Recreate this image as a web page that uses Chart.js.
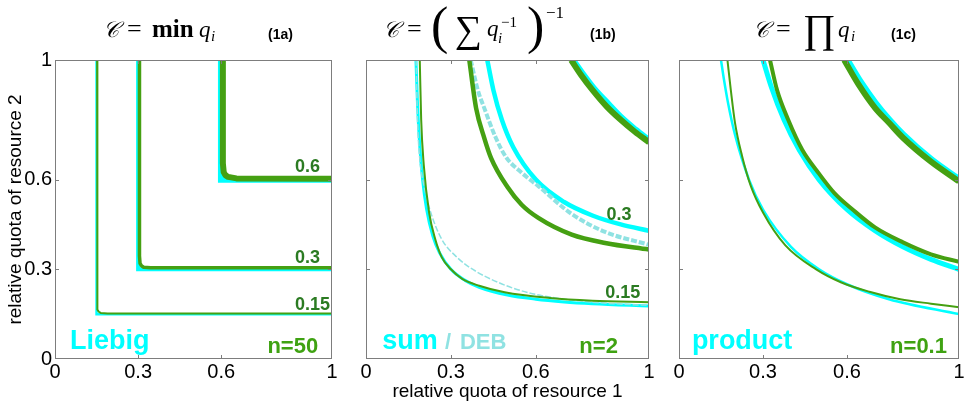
<!DOCTYPE html>
<html>
<head>
<meta charset="utf-8">
<script src="https://cdn.jsdelivr.net/npm/chart.js@4.4.1/dist/chart.umd.min.js"></script>
<style>
  body { margin: 0; background: #fff; width: 964px; height: 405px; position: relative; overflow: hidden; }
  canvas { position: absolute; top: 0; }
  svg { position: absolute; left: 0; top: 0; }
</style>
</head>
<body>
<canvas id="p1" width="345" height="405" style="left:0px"></canvas>
<canvas id="p2" width="315" height="405" style="left:345px"></canvas>
<canvas id="p3" width="304" height="405" style="left:660px"></canvas>

<svg width="964" height="60" font-family="'Liberation Serif','DejaVu Serif',serif">
  <!-- (1a) -->
  <text x="103" y="37" font-size="22" font-style="italic">𝒞</text>
  <text x="127" y="37" font-size="26">=</text>
  <text x="152" y="37" font-size="25" font-weight="bold">min</text>
  <text x="199" y="37" font-size="23" font-style="italic">q</text>
  <text x="211" y="41" font-size="15" font-style="italic">i</text>
  <text x="268" y="39" font-size="14" font-weight="bold" font-family="'Liberation Sans',Arial,sans-serif">(1a)</text>
  <!-- (1b) -->
  <text x="383" y="37" font-size="22" font-style="italic">𝒞</text>
  <text x="407" y="37" font-size="26">=</text>
  <text x="431" y="43" font-size="52">(</text>
  <text x="455" y="42" font-size="38">∑</text>
  <text x="487" y="36" font-size="23" font-style="italic">q</text>
  <text x="501" y="27" font-size="15">−1</text>
  <text x="498" y="43" font-size="15" font-style="italic">i</text>
  <text x="527" y="43" font-size="52">)</text>
  <text x="546" y="18" font-size="17">−1</text>
  <text x="590" y="39" font-size="14" font-weight="bold" font-family="'Liberation Sans',Arial,sans-serif">(1b)</text>
  <!-- (1c) -->
  <text x="753" y="37" font-size="22" font-style="italic">𝒞</text>
  <text x="776" y="37" font-size="26">=</text>
  <text x="803" y="42" font-size="40">∏</text>
  <text x="838" y="37" font-size="23" font-style="italic">q</text>
  <text x="851" y="41" font-size="15" font-style="italic">i</text>
  <text x="891" y="39" font-size="14" font-weight="bold" font-family="'Liberation Sans',Arial,sans-serif">(1c)</text>
</svg>

<script>
// axis ticks
const tickValues = [0, 0.3, 0.6, 1];
const tickLabels = ['0', '0.3', '0.6', '1'];

// (1a) Liebig (cyan) and n=50 (green), levels 0.15 / 0.3 / 0.6
const liebigX15 = [0.15, 0.15, 1];
const liebigY15 = [1, 0.15, 0.15];
const liebigX30 = [0.3, 0.3, 1];
const liebigY30 = [1, 0.3, 0.3];
const liebigX60 = [0.6, 0.6, 1];
const liebigY60 = [1, 0.6, 0.6];
const n50X15 = [0.152, 0.152, 0.154, 0.158, 0.165, 0.19, 1];
const n50Y15 = [1, 0.19, 0.165, 0.158, 0.154, 0.152, 0.152];
const n50X30 = [0.305, 0.305, 0.307, 0.312, 0.32, 0.345, 1];
const n50Y30 = [1, 0.345, 0.32, 0.312, 0.307, 0.305, 0.305];
const n50X60 = [0.606, 0.606, 0.609, 0.615, 0.625, 0.655, 1];
const n50Y60 = [1, 0.655, 0.625, 0.615, 0.609, 0.604, 0.603];

// (1b) sum (cyan), DEB (light cyan, dashed), n=2 (green)
const sumX15 = [0.1765, 0.182, 0.19, 0.2, 0.214, 0.236, 0.26, 0.3, 0.35, 0.4, 0.5, 0.6, 0.7, 0.8, 1];
const sumY15 = [1, 0.853, 0.712, 0.6, 0.502, 0.412, 0.355, 0.3, 0.263, 0.24, 0.214, 0.2, 0.191, 0.185, 0.177];
const debX15 = [0.177, 0.182, 0.19, 0.205, 0.224, 0.265, 0.324, 0.389, 0.47, 0.55, 0.65, 0.8, 1];
const debY15 = [1, 0.8, 0.67, 0.58, 0.505, 0.405, 0.338, 0.293, 0.255, 0.228, 0.207, 0.19, 0.179];
const n2X15 = [0.19, 0.195, 0.204, 0.223, 0.245, 0.268, 0.3, 0.34, 0.4, 0.49, 0.65, 0.8, 1];
const n2Y15 = [1, 0.8, 0.65, 0.49, 0.4, 0.34, 0.3, 0.268, 0.245, 0.223, 0.204, 0.195, 0.19];
const sumX30 = [0.4286, 0.45, 0.48, 0.52, 0.6, 0.7, 0.8, 0.9, 1];
const sumY30 = [1, 0.9, 0.8, 0.709, 0.6, 0.525, 0.48, 0.45, 0.429];
const debX30 = [0.37, 0.395, 0.418, 0.459, 0.495, 0.55, 0.609, 0.727, 0.845, 1];
const debY30 = [1, 0.9, 0.839, 0.739, 0.675, 0.623, 0.578, 0.485, 0.425, 0.382];
const n2X30 = [0.365, 0.389, 0.418, 0.442, 0.5, 0.55, 0.609, 0.727, 0.845, 1];
const n2Y30 = [1, 0.839, 0.739, 0.672, 0.575, 0.516, 0.472, 0.416, 0.388, 0.366];
const sumX60 = [0.732, 0.767, 0.806, 0.855, 0.905, 0.953, 1];
const sumY60 = [1, 0.953, 0.905, 0.855, 0.806, 0.767, 0.732];
const n2X60 = [0.725, 0.76, 0.8, 0.85, 0.9, 0.95, 1];
const n2Y60 = [1, 0.95, 0.9, 0.845, 0.8, 0.76, 0.725];

// (1c) product (cyan) and n=0.1 (green)
const prodX15 = [0.15, 0.16, 0.175, 0.2, 0.25, 0.3, 0.4, 0.5, 0.6, 0.75, 1];
const prodY15 = [1, 0.938, 0.857, 0.75, 0.6, 0.5, 0.375, 0.3, 0.25, 0.2, 0.15];
const prodX30 = [0.3, 0.33, 0.375, 0.43, 0.5, 0.6, 0.7, 0.8, 0.9, 1];
const prodY30 = [1, 0.909, 0.8, 0.698, 0.6, 0.5, 0.429, 0.375, 0.333, 0.3];
const prodX60 = [0.6, 0.65, 0.7, 0.75, 0.8, 0.9, 1];
const prodY60 = [1, 0.923, 0.857, 0.8, 0.75, 0.667, 0.6];
const n01X15 = [0.173, 0.185, 0.2, 0.225, 0.256, 0.3, 0.38, 0.49, 0.58, 0.68, 0.79, 0.9, 1];
const n01Y15 = [1, 0.9, 0.79, 0.68, 0.58, 0.49, 0.38, 0.3, 0.256, 0.225, 0.2, 0.185, 0.173];
const n01X30 = [0.325, 0.35, 0.39, 0.44, 0.5, 0.555, 0.62, 0.7, 0.8, 0.9, 1];
const n01Y30 = [1, 0.9, 0.8, 0.7, 0.62, 0.555, 0.5, 0.44, 0.39, 0.35, 0.325];
const n01X60 = [0.59, 0.64, 0.7, 0.75, 0.8, 0.9, 1];
const n01Y60 = [1, 0.92, 0.84, 0.79, 0.74, 0.66, 0.594];

const CYAN = '#00ffff';
const DEB = '#8fe2e2';
const GREEN = '#45a012';
const GREEN_TXT = '#3fa212';
const DARK = '#2b7b22';
const FONT = "'Liberation Sans', Arial, sans-serif";

Chart.defaults.font.family = FONT;
Chart.defaults.color = '#000';

function curve(xs, ys, color, width, opts = {}) {
  return Object.assign({
    data: xs.map((x, i) => ({ x: x, y: ys[i] })),
    showLine: true,
    borderColor: color,
    borderWidth: width,
    pointRadius: 0,
    fill: false,
    clip: 0,
    borderCapStyle: 'butt',
    borderJoinStyle: 'round'
  }, opts);
}

// frame and inward tick marks
const framePlugin = {
  id: 'frame',
  afterDraw(chart) {
    const { ctx, chartArea: a, scales: { x, y } } = chart;
    ctx.save();
    ctx.strokeStyle = '#7d7d7d';
    ctx.lineWidth = 1;
    ctx.strokeRect(a.left + 0.5, a.top + 0.5, a.right - a.left - 1, a.bottom - a.top - 1);
    ctx.beginPath();
    tickValues.slice(1, -1).forEach(v => {
      const px = Math.round(x.getPixelForValue(v)) + 0.5;
      const py = Math.round(y.getPixelForValue(v)) + 0.5;
      ctx.moveTo(px, a.bottom); ctx.lineTo(px, a.bottom - 4);
      ctx.moveTo(px, a.top); ctx.lineTo(px, a.top + 4);
      ctx.moveTo(a.left, py); ctx.lineTo(a.left + 4, py);
      ctx.moveTo(a.right, py); ctx.lineTo(a.right - 4, py);
    });
    ctx.stroke();
    ctx.restore();
  }
};

// in-plot labels, placed in data coordinates
const panelText = {
  id: 'panelText',
  afterDatasetsDraw(chart, args, opts) {
    const { ctx, scales: { x, y } } = chart;
    (opts.items || []).forEach(t => {
      ctx.save();
      ctx.font = 'bold ' + t.size + 'px ' + FONT;
      ctx.fillStyle = t.color;
      ctx.textAlign = t.align || 'left';
      ctx.textBaseline = 'alphabetic';
      ctx.fillText(t.text, x.getPixelForValue(t.x), y.getPixelForValue(t.y));
      ctx.restore();
    });
  }
};

function xScale(title) {
  return {
    type: 'linear', min: 0, max: 1,
    afterBuildTicks: s => { s.ticks = tickValues.map(v => ({ value: v })); },
    afterFit: s => { s.height = 46; s.paddingLeft = 0; s.paddingRight = 0; },
    ticks: {
      callback: v => tickLabels[tickValues.indexOf(v)],
      font: { size: 20 }, padding: 1, maxRotation: 0, autoSkip: false
    },
    grid: { display: false, drawTicks: false },
    border: { display: false },
    title: { display: !!title, text: title || '', font: { size: 19 }, padding: { top: 0, bottom: 2 } }
  };
}

function yScale(showLabels) {
  return {
    type: 'linear', min: 0, max: 1, display: showLabels,
    afterBuildTicks: s => { s.ticks = tickValues.map(v => ({ value: v })); },
    afterFit: s => { s.width = showLabels ? 55 : 0; s.paddingTop = 0; s.paddingBottom = 0; },
    ticks: {
      callback: v => tickLabels[tickValues.indexOf(v)],
      font: { size: 20 }, padding: 3, autoSkip: false
    },
    grid: { display: false, drawTicks: false },
    border: { display: false },
    title: { display: showLabels, text: 'relative quota of resource 2', font: { size: 19 }, padding: { top: 4, bottom: 0 } }
  };
}

function makeChart(id, datasets, padding, showY, xTitle, items, smooth) {
  new Chart(document.getElementById(id), {
    type: 'scatter',
    data: { datasets: datasets },
    options: {
      responsive: false,
      animation: false,
      layout: { padding: padding },
      elements: { line: smooth ? { cubicInterpolationMode: 'monotone' } : { tension: 0 } },
      scales: { x: xScale(xTitle), y: yScale(showY) },
      plugins: { legend: { display: false }, tooltip: { enabled: false }, panelText: { items: items } }
    },
    plugins: [framePlugin, panelText]
  });
}

// first dataset is drawn on top
makeChart('p1', [
  curve(n50X15, n50Y15, GREEN, 2),
  curve(n50X30, n50Y30, GREEN, 3.5),
  curve(n50X60, n50Y60, GREEN, 6),
  curve(liebigX15, liebigY15, CYAN, 2.5, { borderJoinStyle: 'miter' }),
  curve(liebigX30, liebigY30, CYAN, 4, { borderJoinStyle: 'miter' }),
  curve(liebigX60, liebigY60, CYAN, 6.5, { borderJoinStyle: 'miter' })
], { left: 0, top: 60, right: 13, bottom: 0 }, true, null, [
  { text: '0.6', x: 0.866, y: 0.625, size: 18, color: DARK },
  { text: '0.3', x: 0.866, y: 0.321, size: 18, color: DARK },
  { text: '0.15', x: 0.866, y: 0.164, size: 18, color: DARK },
  { text: 'Liebig', x: 0.054, y: 0.033, size: 27, color: CYAN },
  { text: 'n=50', x: 0.95, y: 0.02, size: 22, color: GREEN_TXT, align: 'right' }
], false);

makeChart('p2', [
  curve(n2X15, n2Y15, GREEN, 2),
  curve(n2X30, n2Y30, GREEN, 4.5),
  curve(n2X60, n2Y60, GREEN, 6),
  curve(debX15, debY15, DEB, 1.5, { borderDash: [6, 2] }),
  curve(debX30, debY30, DEB, 4, { borderDash: [6, 2] }),
  curve(sumX15, sumY15, CYAN, 3),
  curve(sumX30, sumY30, CYAN, 4.5),
  curve(sumX60, sumY60, CYAN, 6)
], { left: 21, top: 60, right: 11, bottom: 0 }, false, 'relative quota of resource 1', [
  { text: '0.3', x: 0.85, y: 0.465, size: 18, color: DARK },
  { text: '0.15', x: 0.845, y: 0.204, size: 18, color: DARK },
  { text: 'sum', x: 0.057, y: 0.033, size: 27, color: CYAN },
  { text: '/', x: 0.279, y: 0.033, size: 22, color: DEB },
  { text: 'DEB', x: 0.332, y: 0.033, size: 22, color: DEB },
  { text: 'n=2', x: 0.89, y: 0.02, size: 22, color: GREEN_TXT, align: 'right' }
], true);

makeChart('p3', [
  curve(n01X15, n01Y15, GREEN, 2),
  curve(n01X30, n01Y30, GREEN, 4),
  curve(n01X60, n01Y60, GREEN, 6),
  curve(prodX15, prodY15, CYAN, 2.5),
  curve(prodX30, prodY30, CYAN, 5),
  curve(prodX60, prodY60, CYAN, 7)
], { left: 19, top: 60, right: 5, bottom: 0 }, false, null, [
  { text: 'product', x: 0.046, y: 0.033, size: 27, color: CYAN },
  { text: 'n=0.1', x: 0.957, y: 0.02, size: 22, color: GREEN_TXT, align: 'right' }
], true);
</script>
</body>
</html>
